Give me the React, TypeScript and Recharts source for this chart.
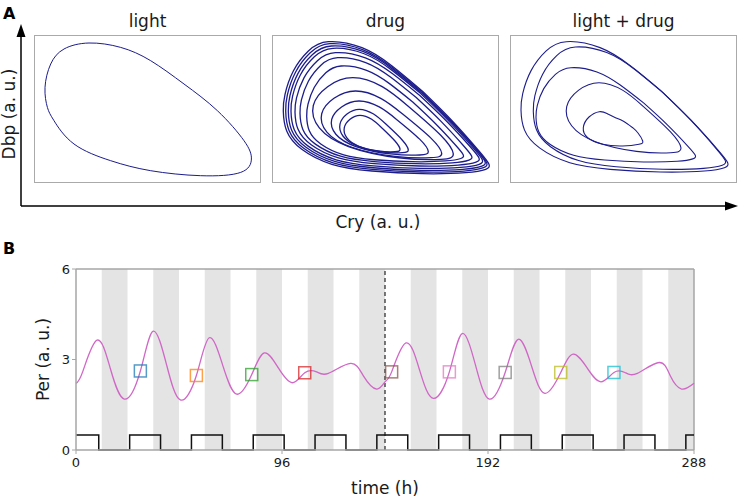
import React from 'react';
import {
  ComposedChart,
  LineChart,
  Line,
  XAxis,
  YAxis,
  ReferenceArea,
  ReferenceLine,
  Scatter,
  Cell,
} from 'recharts';

const FONT = '"DejaVu Sans", sans-serif';

// ---------- Panel A: phase portraits (Cry vs Dbp, a.u.) ----------
const LIGHT_CRY = [149, 115.7, 85.7, 54, 29, 15.7, 10, 12.4, 19, 39, 75.7, 115.7, 165.7, 205.7, 216.4, 209, 182.4, 149];
const LIGHT_DBP = [98, 121.3, 134.6, 139, 133, 118, 94.6, 74.6, 61.3, 38, 21.3, 11.3, 6.3, 9.6, 23, 41.3, 71.3, 98];

// outermost drug loop
const DRUG_OUTER_CRY = [148.7, 118.7, 88.7, 55.3, 35.3, 20.3, 12, 10.3, 13.7, 28.7, 58.7, 98.7, 148.7, 192, 212, 215.3, 205.3, 178.7, 148.7];
const DRUG_OUTER_DBP = [91, 116, 134.3, 140.3, 131, 111, 87.7, 71, 51, 32.7, 17.7, 11, 8.3, 9.3, 12.7, 17.7, 31, 61, 91];
// innermost drug loop
const DRUG_INNER_CRY = [108.7, 98.7, 87, 77, 71.3, 73.7, 85.3, 105.3, 122, 127, 122, 108.7];
const DRUG_INNER_DBP = [54.3, 62.7, 66.7, 62.7, 54.3, 44.3, 36, 31, 30.3, 32.7, 41, 54.3];

// extents of each drug loop, outermost to innermost
const DRUG_CRY_MIN = [10.3, 12.7, 15.3, 18, 22, 27, 33.7, 40.3, 48.7, 58.7, 67, 71.3];
const DRUG_CRY_MAX = [216, 213.7, 212, 209.3, 206, 198.7, 190.3, 180.3, 168.7, 155.3, 135.3, 127];
const DRUG_DBP_MIN = [8.3, 10, 11.7, 13.7, 16, 18.3, 20.3, 22.7, 24.3, 27, 29.3, 30.3];
const DRUG_DBP_MAX = [140.3, 138.3, 136, 133.7, 129.3, 124.3, 116, 104.3, 91, 81, 72.7, 66.7];
const DRUG_SHAPE = ['outer', 'outer', 'outer', 'outer', 'outer', 'outer', 'outer', 'inner', 'inner', 'inner', 'inner', 'inner'];

// light + drug loops extents
const LD_CRY_MIN = [10, 22.3, 25, 55.7];
const LD_CRY_MAX = [216.7, 214.3, 184.3, 170];
const LD_DBP_MIN = [10, 12.7, 20, 29.3];
const LD_DBP_MAX = [140.3, 135, 114.3, 99.3];
const LD_SHAPE = ['outer', 'outer', 'outer', 'inner'];

// innermost light + drug loop
const LD_INNER_CRY = [121.7, 112, 104, 96, 88.3, 78, 72.3, 76.7, 91.7, 111.7, 128, 131.7, 127, 121.7];
const LD_INNER_DBP = [54.3, 61, 64.5, 68.5, 70.3, 65, 54.3, 44.3, 37.7, 36, 37.7, 41, 49, 54.3];

// ---------- Panel B: Per time course ----------
const PER_T = [0, 3.1, 9.8, 16, 22.5, 30, 36, 42.3, 48.6, 56.1, 62.1, 68.5, 74.9, 81.9, 87.8, 94.3, 100.8, 106.6, 112.1, 117.6, 128, 134, 140.1, 144, 147.1, 153.8, 160.2, 166.5, 174, 180, 186.3, 192.6, 200, 206.1, 212.3, 218.5, 225.9, 231.7, 238.2, 244.6, 250.7, 255.8, 261.6, 271.8, 277, 282.2, 288];
const PER_V = [2.21, 2.59, 3.64, 2.7, 1.69, 2.62, 3.94, 2.8, 1.66, 2.47, 3.72, 2.78, 1.85, 2.5, 3.22, 2.72, 2.23, 2.56, 2.59, 2.54, 2.87, 2.45, 2.02, 2.26, 2.59, 3.55, 2.63, 1.71, 2.59, 3.86, 2.78, 1.69, 2.57, 3.67, 2.78, 1.88, 2.57, 3.18, 2.72, 2.26, 2.57, 2.57, 2.54, 2.9, 2.45, 2.02, 2.21];

const BOX_T = [30, 56.1, 81.9, 106.6, 147.1, 174, 200, 225.9, 250.7];
const BOX_V = [2.62, 2.47, 2.5, 2.56, 2.59, 2.59, 2.57, 2.57, 2.57];
const BOX_COLORS = ['#1f77b4', '#ff7f0e', '#2ca02c', '#d62728', '#8c564b', '#e377c2', '#7f7f7f', '#bcbd22', '#17becf'];

const LIGHT_T = [0, 10.6, 25, 39.4, 53.8, 68.2, 82.6, 97, 111.4, 125.8, 140.2, 154.6, 169, 183.4, 197.8, 212.2, 226.6, 241, 255.4, 269.8, 284.2, 288];
const LIGHT_V = [0.5, 0, 0.5, 0, 0.5, 0, 0.5, 0, 0.5, 0, 0.5, 0, 0.5, 0, 0.5, 0, 0.5, 0, 0.5, 0, 0.5, 0.5];

const NIGHT_START = [12, 36, 60, 84, 108, 132, 156, 180, 204, 228, 252, 276];
const NIGHT_END = [24, 48, 72, 96, 120, 144, 168, 192, 216, 240, 264, 288];

const X_TICKS = [0, 96, 192, 288];
const Y_TICKS = [0, 3, 6];
const DRUG_ONSET = 144;

// ---------- helpers ----------
const pairs = (xs: number[], ys: number[]) => xs.map((x, i) => ({ x, y: ys[i] }));

const fitLoop = (tx: number[], ty: number[], x0: number, x1: number, y0: number, y1: number) => {
  const minX = Math.min(...tx);
  const maxX = Math.max(...tx);
  const minY = Math.min(...ty);
  const maxY = Math.max(...ty);
  return tx.map((x, i) => ({
    x: x0 + ((x - minX) / (maxX - minX)) * (x1 - x0),
    y: y0 + ((ty[i] - minY) / (maxY - minY)) * (y1 - y0),
  }));
};

const shapeOf = (s: string) => (s === 'outer' ? [DRUG_OUTER_CRY, DRUG_OUTER_DBP] : [DRUG_INNER_CRY, DRUG_INNER_DBP]);

const lightLoops = [pairs(LIGHT_CRY, LIGHT_DBP)];
const drugLoops = DRUG_CRY_MIN.map((_, i) => {
  const [sx, sy] = shapeOf(DRUG_SHAPE[i]);
  return fitLoop(sx, sy, DRUG_CRY_MIN[i], DRUG_CRY_MAX[i], DRUG_DBP_MIN[i], DRUG_DBP_MAX[i]);
});
const ldLoops = [
  ...LD_CRY_MIN.map((_, i) => {
    const [sx, sy] = shapeOf(LD_SHAPE[i]);
    return fitLoop(sx, sy, LD_CRY_MIN[i], LD_CRY_MAX[i], LD_DBP_MIN[i], LD_DBP_MAX[i]);
  }),
  pairs(LD_INNER_CRY, LD_INNER_DBP),
];

const perData = PER_T.map((t, i) => ({ t, v: PER_V[i] }));
const boxData = BOX_T.map((t, i) => ({ t, v: BOX_V[i] }));
const lightData = LIGHT_T.map((t, i) => ({ t, v: LIGHT_V[i] }));

const NAVY = '#1c1c8c';
const SPINE = '#a6a6a6';

function Portrait({ left, title, loops, width }: { left: number; title: string; loops: { x: number; y: number }[][]; width: number }) {
  return (
    <>
      <div
        style={{
          position: 'absolute',
          left,
          top: 0,
          width: 225,
          textAlign: 'center',
          fontFamily: FONT,
          fontSize: 17,
          color: '#1a1a1a',
          lineHeight: '20px',
          paddingTop: 11,
        }}
      >
        {title}
      </div>
      <div
        style={{
          position: 'absolute',
          left: left - 1,
          top: 35,
          width: 225,
          height: 146,
          border: '1px solid #aaaaaa',
        }}
      >
        <LineChart width={225} height={146} margin={{ top: 0, right: 0, bottom: 0, left: 0 }}>
          <XAxis hide type="number" dataKey="x" domain={[0, 225]} />
          <YAxis hide type="number" domain={[0, 146]} />
          {loops.map((d, i) => (
            <Line
              key={i}
              data={d}
              dataKey="y"
              type="natural"
              dot={false}
              stroke={NAVY}
              strokeWidth={width}
              isAnimationActive={false}
            />
          ))}
        </LineChart>
      </div>
    </>
  );
}

const BoxShape = (props: any) => {
  const { cx, cy, stroke } = props;
  if (cx == null || cy == null) return null;
  return <rect x={cx - 6} y={cy - 6} width={12} height={12} fill="none" stroke={stroke} strokeOpacity={0.75} strokeWidth={1.5} />;
};

export default function App() {
  return (
    <div style={{ position: 'absolute', left: 0, top: 0, width: 740, height: 499, background: '#fff', fontFamily: FONT }}>
      <svg width={740} height={240} style={{ position: 'absolute', left: 0, top: 0 }}>
        <text x={3} y={18.5} fontSize={16} fontWeight="bold" fontFamily={FONT} fill="#000">A</text>
        <line x1={21} y1={206} x2={21} y2={34} stroke="#000" strokeWidth={1.5} />
        <polygon points="21,24 16.5,37 25.5,37" fill="#000" />
        <line x1={21} y1={206} x2={728} y2={206} stroke="#000" strokeWidth={1.5} />
        <polygon points="738,206 725,201.5 725,210.5" fill="#000" />
        <text transform="translate(15,114) rotate(-90)" textAnchor="middle" fontSize={17} fontFamily={FONT} fill="#1a1a1a">Dbp (a. u.)</text>
        <text x={378} y={228} textAnchor="middle" fontSize={17} fontFamily={FONT} fill="#1a1a1a">Cry (a. u.)</text>
      </svg>
      <Portrait left={35} title="light" loops={lightLoops} width={1} />
      <Portrait left={273} title="drug" loops={drugLoops} width={1.3} />
      <Portrait left={511} title="light + drug" loops={ldLoops} width={1.1} />

      <svg width={30} height={30} style={{ position: 'absolute', left: 0, top: 236 }}>
        <text x={3} y={18} fontSize={16} fontWeight="bold" fontFamily={FONT} fill="#000">B</text>
      </svg>
      <div style={{ position: 'absolute', left: 0, top: 240 }}>
        <ComposedChart width={740} height={259} margin={{ top: 29, right: 46, bottom: 0, left: 0 }}>
          <XAxis
            type="number"
            dataKey="t"
            domain={[0, 288]}
            ticks={X_TICKS}
            height={49}
            tickSize={4}
            tickMargin={4}
            axisLine={{ stroke: SPINE, strokeWidth: 1.5 }}
            tickLine={{ stroke: SPINE }}
            tick={{ fill: '#1a1a1a', fontSize: 13, fontFamily: FONT }}
            label={{ value: 'time (h)', position: 'insideBottom', offset: 5, style: { fontSize: 17, fill: '#1a1a1a', fontFamily: FONT } }}
          />
          <YAxis
            type="number"
            domain={[0, 6]}
            ticks={Y_TICKS}
            width={76}
            tickSize={4}
            tickMargin={2}
            axisLine={{ stroke: SPINE, strokeWidth: 1.5 }}
            tickLine={{ stroke: SPINE }}
            tick={{ fill: '#1a1a1a', fontSize: 13, fontFamily: FONT }}
            label={{ value: 'Per (a. u.)', angle: -90, position: 'insideLeft', offset: 43, style: { textAnchor: 'middle', fontSize: 17, fill: '#1a1a1a', fontFamily: FONT } }}
          />
          {NIGHT_START.map((s, i) => (
            <ReferenceArea key={i} x1={s} x2={NIGHT_END[i]} y1={0} y2={6} fill="#e4e4e4" fillOpacity={1} stroke="none" />
          ))}
          <ReferenceLine y={6} stroke={SPINE} strokeWidth={1.5} />
          <ReferenceLine x={288} stroke={SPINE} strokeWidth={1.5} />
          <ReferenceLine x={DRUG_ONSET} stroke="#333" strokeWidth={1.3} strokeDasharray="4 3" />
          <Line data={lightData} dataKey="v" type="stepAfter" dot={false} stroke="#111" strokeWidth={1.5} isAnimationActive={false} />
          <Line data={perData} dataKey="v" type="natural" dot={false} stroke="#d067c6" strokeWidth={1.3} isAnimationActive={false} />
          <Scatter data={boxData} dataKey="v" shape={BoxShape} isAnimationActive={false}>
            {boxData.map((_, i) => (
              <Cell key={i} stroke={BOX_COLORS[i]} fill="none" />
            ))}
          </Scatter>
        </ComposedChart>
      </div>
    </div>
  );
}
